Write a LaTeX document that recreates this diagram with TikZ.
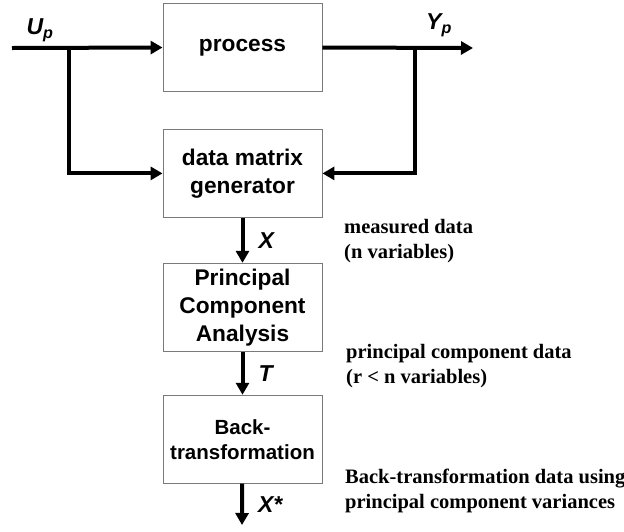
\documentclass[tikz,border=0pt]{standalone}
\usepackage{fontspec}
\setmainfont{Liberation Serif}
\setsansfont{Liberation Sans}
\usetikzlibrary{arrows.meta, positioning}
\definecolor{boxgray}{HTML}{7A7A7A}

\tikzset{
  blockbox/.style={draw=boxgray, line width=0.9pt, minimum width=159pt, minimum height=88pt, inner sep=0pt, align=center, font=\fontsize{22.7}{28}\selectfont\sffamily\bfseries},
  flow/.style={line width=4pt, -{Triangle[length=12pt, width=13pt]}},
  sig/.style={font=\fontsize{23}{23}\selectfont\sffamily\bfseries\itshape, inner sep=1pt},
  note/.style={font=\fontsize{20.5}{25}\selectfont\bfseries, align=left, anchor=west, inner sep=0pt}
}

\begin{document}
\begin{tikzpicture}[x=1pt, y=-1pt]
  \useasboundingbox (0,0) rectangle (624,531);

  % Blocks
  \node[blockbox] (process) at (242.5,47.5) {process};
  \node[blockbox, below=37pt of process] (dmg) {data matrix\\generator};
  \node[blockbox, below=45pt of dmg] (pca) {Principal\\Component\\Analysis};
  \node[blockbox, below=43pt of pca, font=\fontsize{20.5}{25}\selectfont\sffamily\bfseries] (back) {Back-\\transformation};

  % Input and output signals
  \coordinate (in) at (12,48);
  \coordinate (split) at (69,48);
  \coordinate (out) at (473,48);
  \coordinate (tap) at (415,48);
  \draw[flow] (in) -- (process.west);
  \draw[flow] (split) |- (dmg.west);
  \draw[flow] (process.east) -- (out);
  \draw[flow] (tap) |- (dmg.east);
  \node[sig] (up) at (40,30) {U\textsubscript{p}};
  \node[sig] (yp) at (439,25) {Y\textsubscript{p}};

  % Data flow down the chain
  \coordinate (end) at (242,525);
  \draw[flow] (dmg) -- node[sig, right=13pt] (x) {X} (pca);
  \draw[flow] (pca) -- node[sig, right=13pt] (t) {T} (back);
  \draw[flow] (back) -- node[sig, right=13pt] (xs) {X*} (end);

  % Notes on the right
  \node[note] (measured) at (344,241) {measured data\\(n variables)};
  \node[note] (pcdata) at (346,366) {principal component data\\(r < n variables)};
  \node[note] (backdata) at (345,491) {Back-transformation data using\\principal component variances};
\end{tikzpicture}
\end{document}
